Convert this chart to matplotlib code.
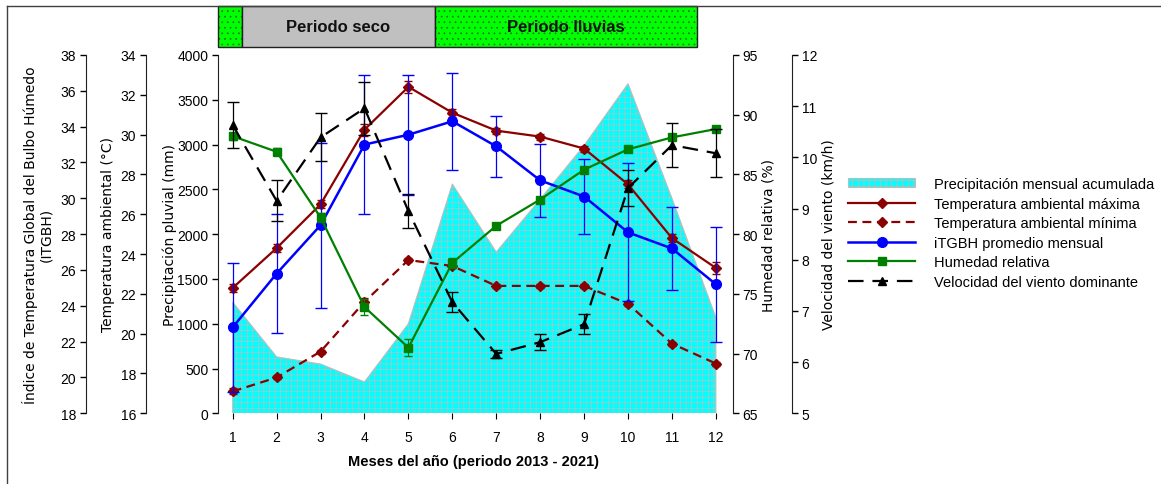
import matplotlib
matplotlib.use("Agg")
import matplotlib.pyplot as plt
from matplotlib.patches import Patch, Rectangle
from matplotlib.lines import Line2D

plt.rcParams['hatch.linewidth'] = 0.5

# datos mensuales
meses = list(range(1, 13))
precip = [1240, 630, 550, 350, 1000, 2560, 1800, 2390, 2990, 3680, 2400, 1070]
t_max = [22.3, 24.3, 26.5, 30.25, 32.4, 31.1, 30.2, 29.9, 29.3, 27.5, 24.8, 23.3]
t_max_err = [0.2, 0.2, 0.2, 0.3, 0.3, 0.2, 0.15, 0.15, 0.15, 0.2, 0.2, 0.3]
t_min = [17.1, 17.8, 19.1, 21.6, 23.7, 23.4, 22.4, 22.4, 22.4, 21.5, 19.5, 18.5]
t_min_err = [0.15, 0.1, 0.1, 0.2, 0.1, 0.1, 0.1, 0.1, 0.1, 0.1, 0.1, 0.1]
itgbh = [22.8, 25.8, 28.5, 33.0, 33.55, 34.3, 32.9, 31.0, 30.1, 28.1, 27.2, 25.2]
itgbh_err = [3.6, 3.3, 4.6, 3.9, 3.35, 2.7, 1.7, 2.05, 2.1, 3.85, 2.3, 3.2]
humedad = [88.2, 86.9, 81.4, 73.9, 70.5, 77.6, 80.7, 82.9, 85.4, 87.1, 88.1, 88.8]
humedad_err = [0.3, 0.3, 0.4, 0.7, 0.7, 0.4, 0.2, 0.2, 0.2, 0.2, 0.2, 0.2]
viento = [10.63, 9.15, 10.39, 10.96, 8.95, 7.17, 6.16, 6.39, 6.74, 9.4, 10.24, 10.08]
viento_err = [0.45, 0.4, 0.47, 0.52, 0.33, 0.2, 0.08, 0.15, 0.2, 0.35, 0.43, 0.47]

rojo = '#8B0000'
gris_trama = '#BDBDBD'
fuente_ticks = ['Liberation Sans Narrow', 'Liberation Sans', 'DejaVu Sans']
W, H = 1161, 485

fig = plt.figure(figsize=(W / 100, H / 100), dpi=100)
ax = fig.add_axes([218 / W, 1 - 414.3 / H, (733 - 218) / W, (414.3 - 56) / H])


def estilo_ticks(a):
    a.tick_params(axis='y', direction='out', length=4, width=1, labelsize=10, pad=3)
    for lab in a.get_yticklabels():
        lab.set_family(fuente_ticks)


def eje_extra(pos, side):
    a = ax.twinx()
    a.patch.set_visible(False)
    for s in ['top', 'bottom', 'left', 'right']:
        a.spines[s].set_visible(False)
    a.spines[side].set_visible(True)
    a.spines[side].set_position(('axes', pos))
    a.spines[side].set_color('#202020')
    a.yaxis.set_ticks_position(side)
    return a


# precipitación (área)
ax.fill_between(meses, precip, 0, facecolor='#00FFFF', edgecolor=gris_trama,
                hatch='+++', linewidth=0.8, zorder=1)
ax.set_xlim(0.665, 12.39)
ax.set_ylim(0, 4000)
ax.set_yticks(range(0, 4001, 500))
ax.set_xticks(meses)
for s in ['top', 'right', 'bottom']:
    ax.spines[s].set_visible(False)
ax.spines['left'].set_color('#202020')
ax.tick_params(axis='x', direction='out', length=4, labelsize=10, pad=8)
for lab in ax.get_xticklabels():
    lab.set_family(fuente_ticks)
estilo_ticks(ax)

# temperatura ambiental
ax_t = eje_extra(-72 / 515, 'left')
ax_t.set_ylim(16, 34)
ax_t.set_yticks(range(16, 35, 2))
estilo_ticks(ax_t)
ax_t.errorbar(meses, t_max, yerr=t_max_err, color=rojo, lw=1.6, marker='D',
              ms=5, capsize=3, elinewidth=0.8)
ax_t.errorbar(meses, t_min, yerr=t_min_err, color=rojo, lw=1.6, marker='D',
              ms=5, capsize=3, elinewidth=0.8, dashes=(4, 2.5))

# ITGBH
ax_i = eje_extra(-132 / 515, 'left')
ax_i.set_ylim(18, 38)
ax_i.set_yticks(range(18, 39, 2))
estilo_ticks(ax_i)
ax_i.errorbar(meses, itgbh, yerr=itgbh_err, color='#0000FF', lw=1.8, marker='o',
              ms=7, capsize=4, elinewidth=0.9)

# humedad relativa
ax_h = eje_extra(1.0, 'right')
ax_h.set_ylim(65, 95)
ax_h.set_yticks(range(65, 96, 5))
estilo_ticks(ax_h)
ax_h.errorbar(meses, humedad, yerr=humedad_err, color='#008000', lw=1.6, marker='s',
              ms=6, capsize=3, elinewidth=0.8)

# velocidad del viento
ax_w = eje_extra(59 / 515 + 1, 'right')
ax_w.set_ylim(5, 12)
ax_w.set_yticks(range(5, 13))
estilo_ticks(ax_w)
ax_w.errorbar(meses, viento, yerr=viento_err, color='black', lw=1.6, marker='^',
              ms=6, capsize=4, elinewidth=0.9, dashes=(7, 4))

# títulos de ejes
lab_kw = dict(rotation=90, ha='center', va='center', fontsize=10, family='DejaVu Sans')
fig.text(38 / W, 1 - 235 / H, 'Índice de Temperatura Global del Bulbo Húmedo\n(ITGBH)',
         linespacing=1.1, **lab_kw)
fig.text(108 / W, 1 - 235 / H, 'Temperatura ambiental (°C)', **lab_kw)
fig.text(170 / W, 1 - 235 / H, 'Precipitación pluvial (mm)', **lab_kw)
fig.text(768 / W, 1 - 235 / H, 'Humedad relativa (%)', **lab_kw)
fig.text(828 / W, 1 - 235 / H, 'Velocidad del viento (km/h)', **lab_kw)
fig.text(473 / W, 1 - 462 / H, 'Meses del año (periodo 2013 - 2021)', ha='center',
         va='center', fontsize=10.5, fontweight='bold', family=fuente_ticks)

# leyenda
handles = [
    Patch(facecolor='#00FFFF', edgecolor=gris_trama, hatch='+++', lw=0.8),
    Line2D([], [], color=rojo, lw=1.6, marker='D', ms=5),
    Line2D([], [], color=rojo, lw=1.6, marker='D', ms=5, dashes=(4, 2.5)),
    Line2D([], [], color='#0000FF', lw=1.8, marker='o', ms=7),
    Line2D([], [], color='#008000', lw=1.6, marker='s', ms=6),
    Line2D([], [], color='black', lw=1.6, marker='^', ms=6, dashes=(7, 4)),
]
labels = ['Precipitación mensual acumulada', 'Temperatura ambiental máxima',
          'Temperatura ambiental mínima', 'iTGBH promedio mensual',
          'Humedad relativa', 'Velocidad del viento dominante']
fig.legend(handles, labels, loc='upper left', bbox_to_anchor=(848 / W, 1 - 178 / H),
           frameon=False, borderpad=0, borderaxespad=0, handlelength=4.6,
           handleheight=0.6, handletextpad=1.3, labelspacing=0.38,
           prop={'family': 'Liberation Sans', 'size': 10.5})

# franjas de periodo
y0, y1 = 1 - 48 / H, 1 - 7 / H
bandas = [(218, 242, '#00FF00', '...', ''), (242, 435, '#C0C0C0', None, 'Periodo seco'),
          (435, 697, '#00FF00', '...', 'Periodo lluvias')]
for xa, xb, col, hat, txt in bandas:
    caja = dict(xy=(xa / W, y0), width=(xb - xa) / W, height=y1 - y0,
                transform=fig.transFigure)
    fig.add_artist(Rectangle(facecolor=col, edgecolor='none', **caja))
    if hat:
        fig.add_artist(Rectangle(facecolor='none', edgecolor='#2E6B2E', lw=0,
                                 hatch=hat, **caja))
    fig.add_artist(Rectangle(facecolor='none', edgecolor='#202020', lw=1, **caja))
    if txt:
        fig.text((xa + xb) / 2 / W, (y0 + y1) / 2, txt, ha='center', va='center',
                 fontsize=12, fontweight='bold', family='Liberation Sans', color='#111111')

# marco
fig.add_artist(Line2D([7 / W, 1], [1 - 7 / H, 1 - 7 / H], transform=fig.transFigure,
                      color='#404040', lw=1))
fig.add_artist(Line2D([7 / W, 7 / W], [0, 1 - 7 / H], transform=fig.transFigure,
                      color='#404040', lw=1))

fig.savefig('out.png', dpi=100)
